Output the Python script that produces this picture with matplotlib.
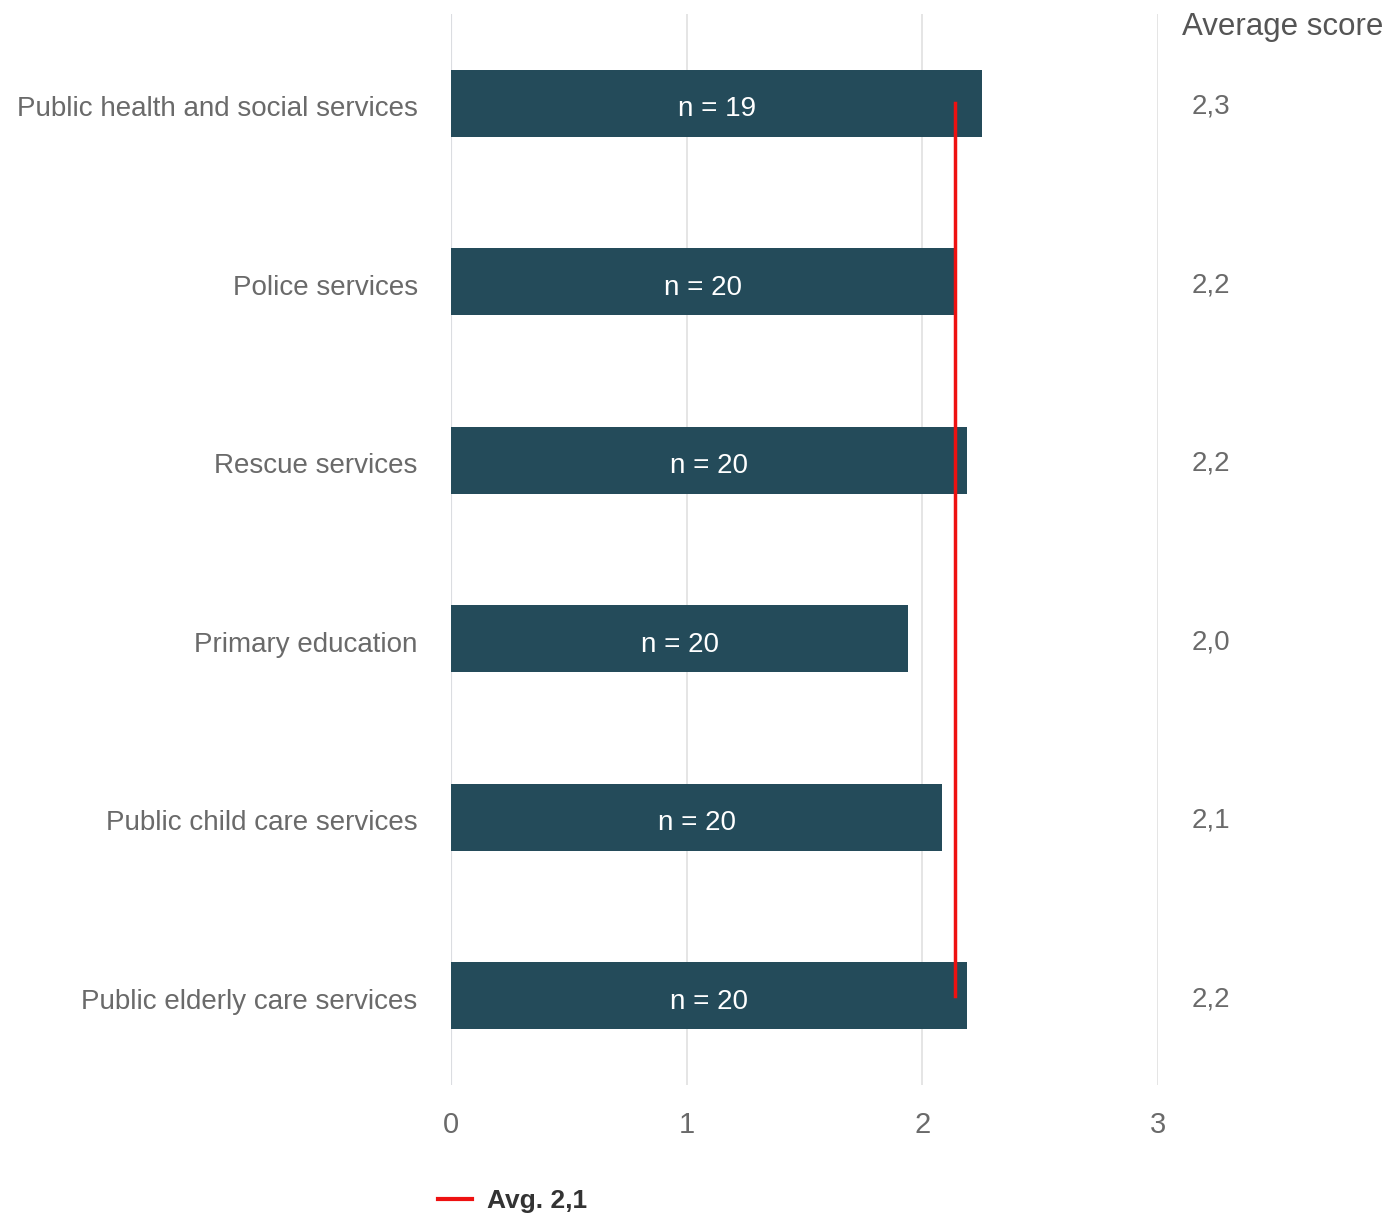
import matplotlib.pyplot as plt
from matplotlib.lines import Line2D
from matplotlib.transforms import blended_transform_factory, ScaledTranslation

categories = [
    "Public health and social services",
    "Police services",
    "Rescue services",
    "Primary education",
    "Public child care services",
    "Public elderly care services",
]
scores = [2.255, 2.14, 2.19, 1.94, 2.085, 2.19]
score_labels = ["2,3", "2,2", "2,2", "2,0", "2,1", "2,2"]
n_labels = ["n = 19", "n = 20", "n = 20", "n = 20", "n = 20", "n = 20"]
avg_value = 2.14
avg_label = "Avg. 2,1"

plt.rcParams['font.family'] = ['Liberation Sans', 'DejaVu Sans']

fig = plt.figure(figsize=(13.87, 12.15), dpi=100)
ax = fig.add_axes([451 / 1387, 1 - 1085 / 1215, (1158 - 451) / 1387, (1085 - 14) / 1215])

y = list(range(len(categories)))
ax.barh(y, scores, height=0.375, color='#244b5a', zorder=2)
for yi, s, lab in zip(y, scores, n_labels):
    ax.text(s / 2, yi + 0.035, lab, color='white', fontsize=20, ha='center', va='center', zorder=3)

ax.plot([avg_value, avg_value], [y[0], y[-1]], color='#ee1111', lw=2.5, zorder=4)

ax.set_xlim(0, 3)
ax.set_ylim(len(categories) - 0.5, -0.5)
ax.set_xticks([0, 1, 2, 3])
ax.set_yticks(y)
ax.set_yticklabels(categories)
ax.tick_params(axis='y', length=0, pad=24, labelsize=20, labelcolor='#6a6a6a')
ax.tick_params(axis='x', length=0, pad=19, labelsize=21, labelcolor='#6a6a6a')
# nudge category labels down a little
for t in ax.get_yticklabels():
    t.set_transform(t.get_transform() + ScaledTranslation(0, -3 / 100, fig.dpi_scale_trans))
ax.grid(axis='x', color='#e0e0e0', lw=1.2, zorder=0)
ax.axvline(0, color='#c5d0e6', lw=1.5, zorder=1)
for sp in ax.spines.values():
    sp.set_visible(False)

# average score column
col = blended_transform_factory(fig.transFigure, ax.transData)
for yi, lab in zip(y, score_labels):
    ax.text(1192 / 1387, yi + 0.02, lab, transform=col,
            fontsize=20, color='#6a6a6a', ha='left', va='center')
fig.text(1383 / 1387, 1 - 27 / 1215, "Average score", fontsize=22.5, color='#555555', ha='right', va='center')

leg_handle = Line2D([], [], color='#ee1111', lw=3)
fig.legend([leg_handle], [avg_label], loc='center left', bbox_to_anchor=(414 / 1387, 1 - 1201 / 1215),
           frameon=False, prop={'size': 19, 'weight': 'bold'}, handlelength=1.3, handletextpad=0.55,
           labelcolor='#333333')

fig.savefig('out.png', dpi=100)
